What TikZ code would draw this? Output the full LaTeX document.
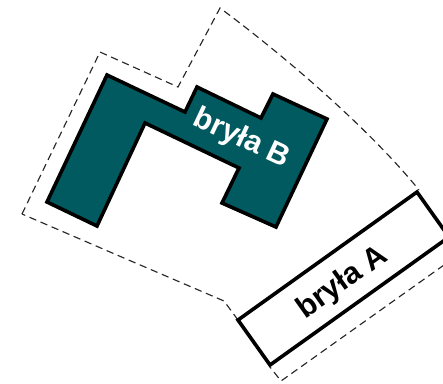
\documentclass[tikz,border=0pt]{standalone}
\usepackage{fontspec}
\setmainfont{Liberation Sans}
\definecolor{teal1}{HTML}{005A60}
\tikzset{
  plot/.style={draw=black!85,line width=0.85pt,dash pattern=on 5.5pt off 3.5pt},
  bryla/.style={draw=black,line width=2.7pt,line join=miter},
  label/.style={font=\bfseries\fontsize{22.8}{24}\selectfont,inner sep=0pt}
}
\begin{document}
\begin{tikzpicture}[x=0.75pt,y=-0.75pt]
\useasboundingbox (0,0) rectangle (443,383);
\clip (0,0) rectangle (443,383);
\draw[plot] (22,214) -- (100,52) -- (178,87) -- (220,8)
  .. controls (290,60) and (372,132) .. (419,190);
\draw[plot] (444,265) -- (281,381) -- (270,367);
\draw[plot] (238,320) -- (224,301) -- (110,252) -- (22,214);
\draw[bryla,fill=teal1] (107,75) -- (185,112) -- (197,87) -- (261,118) -- (273,94) -- (327,119)
  -- (276,227) -- (222,203) -- (239,168) -- (145,123) -- (97,226) -- (47,202) -- cycle;
\draw[bryla,fill=white] (238,320) -- (417,192) -- (449,237) -- (270,365) -- cycle;
\node[label,text=white,rotate=-25] (b) at (241.5,139) {bryła B};
\node[label,text=black,rotate=35.5] (a) at (342.5,283) {bryła A};
\end{tikzpicture}
\end{document}
